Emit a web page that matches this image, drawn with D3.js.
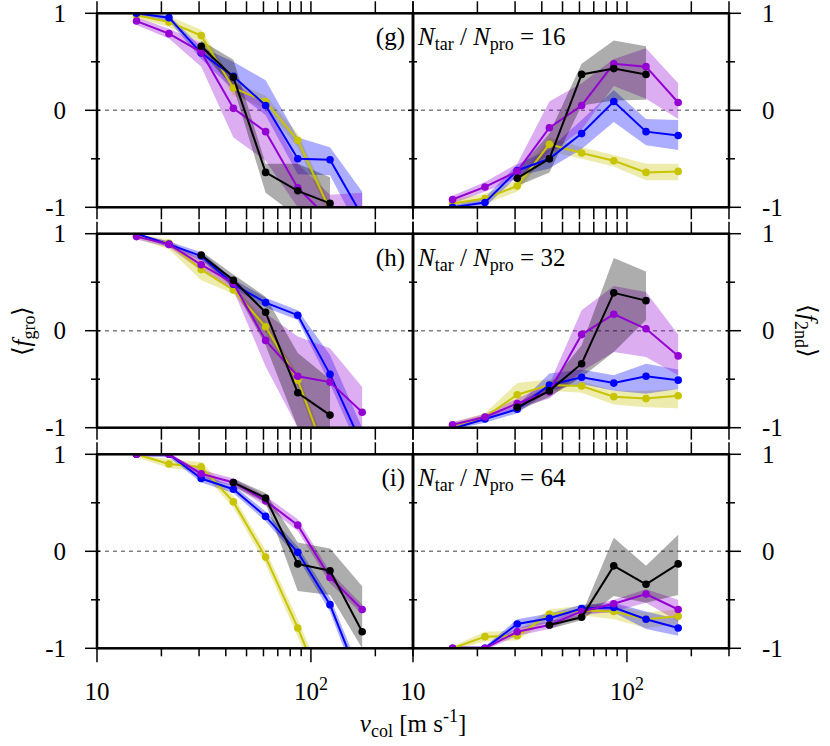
<!DOCTYPE html>
<html><head><meta charset="utf-8"><script src="https://d3js.org/d3.v7.min.js"></script></head>
<body style="margin:0">
<script>
// collision velocities (m/s), same for every panel
var vcol = [15.3, 21.7, 30.7, 43.4, 61.4, 86.8, 122.8, 173.6];

// series order: yellow, blue, purple, black
var seriesColors = ["#c8c400", "#0000ff", "#9400d3", "#000000"];
var ratios = [16, 32, 64];
var panelTags = ["(g)", "(h)", "(i)"];

// <f_gro>, N_tar/N_pro = 16
var groG_mean = [
  [0.98, 0.91, 0.77, 0.23, 0.09, -0.31, -1.03, null],
  [1.00, 0.955, 0.59, 0.35, 0.05, -0.50, -0.51, -1.09],
  [0.92, 0.79, 0.60, 0.02, -0.22, -0.80, -1.13, -1.20],
  [null, null, 0.66, 0.34, -0.64, -0.83, -0.96, null]];
var groG_lo = [
  [0.95, 0.86, 0.70, 0.15, 0.02, -0.38, -1.10, null],
  [0.98, 0.92, 0.53, 0.21, -0.05, -0.66, -0.67, -1.30],
  [0.88, 0.74, 0.45, -0.28, -0.52, -1.00, -1.30, -1.30],
  [null, null, 0.60, 0.24, -0.85, -1.10, -1.20, null]];
var groG_hi = [
  [1.00, 0.97, 0.83, 0.30, 0.15, -0.24, -0.96, null],
  [1.00, 0.98, 0.65, 0.50, 0.31, -0.28, -0.38, -0.84],
  [0.96, 0.84, 0.70, 0.30, 0.05, -0.55, -0.87, -0.85],
  [null, null, 0.72, 0.52, -0.55, -0.55, -0.69, null]];

// <f_2nd>, N_tar/N_pro = 16
var secG_mean = [
  [-0.96, -0.91, -0.78, -0.35, -0.44, -0.52, -0.64, -0.63],
  [-1.00, -0.95, -0.62, -0.50, -0.24, 0.09, -0.22, -0.26],
  [-0.92, -0.79, -0.63, -0.18, 0.05, 0.48, 0.45, 0.08],
  [null, null, -0.70, -0.50, 0.37, 0.43, 0.37, null]];
var secG_lo = [
  [-1.00, -0.96, -0.84, -0.42, -0.50, -0.58, -0.72, -0.72],
  [-1.02, -1.00, -0.68, -0.60, -0.40, -0.12, -0.36, -0.41],
  [-0.96, -0.84, -0.70, -0.45, -0.20, 0.25, 0.12, -0.09],
  [null, null, -0.78, -0.64, 0.05, 0.10, 0.11, null]];
var secG_hi = [
  [-0.92, -0.86, -0.72, -0.28, -0.38, -0.46, -0.55, -0.55],
  [-0.98, -0.90, -0.56, -0.40, -0.10, 0.21, -0.09, -0.10],
  [-0.88, -0.74, -0.55, 0.09, 0.28, 0.53, 0.64, 0.28],
  [null, null, -0.62, -0.24, 0.48, 0.72, 0.66, null]];

// <f_gro>, N_tar/N_pro = 32
var groH_mean = [
  [0.98, 0.90, 0.63, 0.42, 0.04, -0.51, -1.40, null],
  [1.00, 0.89, 0.77, 0.48, 0.29, 0.16, -0.45, -1.18],
  [0.97, 0.89, 0.68, 0.49, -0.10, -0.47, -0.53, -0.84],
  [null, null, 0.78, 0.52, 0.19, -0.64, -0.87, null]];
var groH_lo = [
  [0.95, 0.84, 0.52, 0.38, -0.02, -0.58, -1.50, null],
  [0.98, 0.86, 0.73, 0.44, 0.24, 0.11, -0.55, -1.30],
  [0.94, 0.86, 0.62, 0.42, -0.37, -1.00, -1.00, -1.00],
  [null, null, 0.74, 0.45, -0.15, -1.00, -1.00, null]];
var groH_hi = [
  [1.00, 0.94, 0.72, 0.47, 0.10, -0.44, -1.30, null],
  [1.00, 0.92, 0.81, 0.53, 0.34, 0.21, -0.25, -1.00],
  [1.00, 0.92, 0.74, 0.55, 0.18, -0.06, -0.18, -0.58],
  [null, null, 0.82, 0.58, 0.35, -0.23, -0.50, null]];

// <f_2nd>, N_tar/N_pro = 32
var secH_mean = [
  [-0.98, -0.89, -0.66, -0.56, -0.57, -0.68, -0.70, -0.67],
  [-1.01, -0.91, -0.81, -0.56, -0.48, -0.54, -0.47, -0.51],
  [-0.97, -0.89, -0.75, -0.63, -0.04, 0.17, 0.02, -0.26],
  [null, null, -0.79, -0.62, -0.34, 0.39, 0.31, null]];
var secH_lo = [
  [-1.00, -0.93, -0.74, -0.62, -0.64, -0.76, -0.79, -0.80],
  [-1.02, -0.95, -0.85, -0.62, -0.55, -0.62, -0.65, -0.60],
  [-1.00, -0.92, -0.80, -0.70, -0.42, -0.22, -0.27, -0.46],
  [null, null, -0.83, -0.68, -0.48, -0.22, 0.11, null]];
var secH_hi = [
  [-0.95, -0.85, -0.54, -0.50, -0.52, -0.62, -0.62, -0.60],
  [-0.98, -0.87, -0.77, -0.44, -0.40, -0.46, -0.34, -0.40],
  [-0.94, -0.86, -0.70, -0.55, 0.21, 0.46, 0.40, -0.04],
  [null, null, -0.75, -0.56, -0.15, 0.75, 0.61, null]];

// <f_gro>, N_tar/N_pro = 64
var groI_mean = [
  [1.00, 0.90, 0.87, 0.51, -0.06, -0.79, -1.60, null],
  [1.00, 1.00, 0.75, 0.64, 0.36, -0.01, -0.55, -1.39],
  [1.00, 1.00, 0.80, 0.71, 0.52, 0.27, -0.27, -0.60],
  [null, null, null, 0.71, 0.55, -0.13, -0.20, -0.83]];
var groI_lo = [
  [0.97, 0.86, 0.82, 0.45, -0.13, -0.88, -1.70, null],
  [0.98, 0.97, 0.71, 0.60, 0.31, -0.07, -0.62, -1.50],
  [0.98, 0.98, 0.76, 0.67, 0.47, 0.21, -0.33, -0.65],
  [null, null, null, 0.67, 0.50, -0.41, -0.45, -1.00]];
var groI_hi = [
  [1.00, 0.95, 0.92, 0.57, 0.01, -0.70, -1.50, null],
  [1.00, 1.00, 0.79, 0.68, 0.41, 0.05, -0.48, -1.28],
  [1.00, 1.00, 0.84, 0.75, 0.57, 0.33, -0.21, -0.55],
  [null, null, null, 0.75, 0.60, 0.09, 0.03, -0.36]];

// <f_2nd>, N_tar/N_pro = 64
var secI_mean = [
  [-1.00, -0.88, -0.87, -0.65, -0.61, -0.62, -0.70, -0.67],
  [-1.00, -1.00, -0.75, -0.69, -0.59, -0.58, -0.70, -0.79],
  [-1.00, -1.00, -0.83, -0.76, -0.62, -0.54, -0.44, -0.60],
  [null, null, null, -0.76, -0.68, -0.15, -0.34, -0.13]];
var secI_lo = [
  [-1.02, -0.93, -0.92, -0.70, -0.66, -0.70, -0.79, -0.75],
  [-1.02, -1.02, -0.80, -0.74, -0.63, -0.63, -0.80, -0.87],
  [-1.02, -1.02, -0.87, -0.80, -0.66, -0.62, -0.53, -0.72],
  [null, null, null, -0.80, -0.71, -0.46, -0.53, -0.45]];
var secI_hi = [
  [-0.98, -0.83, -0.82, -0.60, -0.56, -0.55, -0.63, -0.60],
  [-0.98, -0.98, -0.70, -0.64, -0.55, -0.53, -0.62, -0.70],
  [-0.98, -0.98, -0.79, -0.72, -0.58, -0.50, -0.39, -0.50],
  [null, null, null, -0.72, -0.65, 0.14, -0.15, 0.17]];

var xTicks = [10, 20, 30, 40, 50, 60, 70, 80, 90, 100, 200, 300];
var yTicks = [-1, -0.5, 0, 0.5, 1];
var yTickLabels = ["-1", "", "0", "", "1"];

var FS = 25, FSUB = 18;
var SERIF = "Liberation Serif, Tinos, Times New Roman, Nimbus Roman, serif";

// layout
var W = 830, H = 746;
var colX = [97, 413], panelW = 316;
var rowY = [13.3, 233.7, 454.3], panelH = 194;

var svg = d3.select("body").append("svg")
  .attr("width", W).attr("height", H)
  .attr("font-family", SERIF);

var defs = svg.append("defs");

var panels = [
  [[groG_mean, groG_lo, groG_hi], [secG_mean, secG_lo, secG_hi]],
  [[groH_mean, groH_lo, groH_hi], [secH_mean, secH_lo, secH_hi]],
  [[groI_mean, groI_lo, groI_hi], [secI_mean, secI_lo, secI_hi]]
];

function txt(sel) {
  return sel.append("text").attr("font-family", SERIF);
}

function drawPanel(r, c) {
  var x0 = colX[c], y0 = rowY[r];
  var x = d3.scaleLog().domain([10, 300]).range([x0, x0 + panelW]);
  var y = d3.scaleLinear().domain([-1, 1]).range([y0 + panelH, y0]);
  var mean = panels[r][c][0], lo = panels[r][c][1], hi = panels[r][c][2];

  var id = "clip" + r + c;
  defs.append("clipPath").attr("id", id).append("rect")
    .attr("x", x0).attr("y", y0).attr("width", panelW).attr("height", panelH);

  var g = svg.append("g").attr("clip-path", "url(#" + id + ")");

  // zero line
  g.append("line")
    .attr("x1", x0).attr("x2", x0 + panelW)
    .attr("y1", y(0)).attr("y2", y(0))
    .attr("stroke", "#808080").attr("stroke-width", 1.6)
    .attr("stroke-dasharray", "4,4");

  // bands first
  seriesColors.forEach(function(col, s) {
    var pts = vcol.map(function(v, i) { return {v: v, lo: lo[s][i], hi: hi[s][i]}; })
      .filter(function(d) { return d.lo != null; });
    var area = d3.area()
      .x(function(d) { return x(d.v); })
      .y0(function(d) { return y(d.lo); })
      .y1(function(d) { return y(d.hi); });
    g.append("path").datum(pts)
      .attr("d", area)
      .attr("fill", col)
      .attr("fill-opacity", 0.32);
  });

  // lines and dots
  seriesColors.forEach(function(col, s) {
    var pts = vcol.map(function(v, i) { return {v: v, m: mean[s][i]}; })
      .filter(function(d) { return d.m != null; });
    var line = d3.line()
      .x(function(d) { return x(d.v); })
      .y(function(d) { return y(d.m); });
    g.append("path").datum(pts)
      .attr("d", line)
      .attr("fill", "none")
      .attr("stroke", col)
      .attr("stroke-width", 2);
    g.selectAll(null).data(pts).enter().append("circle")
      .attr("cx", function(d) { return x(d.v); })
      .attr("cy", function(d) { return y(d.m); })
      .attr("r", 3.8)
      .attr("fill", col);
  });

  // frame
  svg.append("rect")
    .attr("x", x0).attr("y", y0).attr("width", panelW).attr("height", panelH)
    .attr("fill", "none").attr("stroke", "#000").attr("stroke-width", 2.5);

  var ax = svg.append("g").attr("stroke", "#000").attr("stroke-width", 1.5);

  // x ticks, outward top and bottom
  xTicks.forEach(function(t) {
    var major = (t === 10 || t === 100);
    var lenTop = 12;
    var lenBot = (r === 2) ? (major ? 14 : 8) : 12;
    ax.append("line").attr("x1", x(t)).attr("x2", x(t))
      .attr("y1", y0).attr("y2", y0 - lenTop);
    ax.append("line").attr("x1", x(t)).attr("x2", x(t))
      .attr("y1", y0 + panelH).attr("y2", y0 + panelH + lenBot);
  });

  // y ticks
  yTicks.forEach(function(t, i) {
    var major = yTickLabels[i] !== "";
    var len = major ? 12 : 6;
    if (c === 0) {
      ax.append("line").attr("x1", x0 - len).attr("x2", x0 + 3)
        .attr("y1", y(t)).attr("y2", y(t));
      ax.append("line").attr("x1", x0 + panelW - (major ? 5 : 4)).attr("x2", x0 + panelW + (major ? 5 : 4))
        .attr("y1", y(t)).attr("y2", y(t));
    } else {
      ax.append("line").attr("x1", x0 + panelW - 3).attr("x2", x0 + panelW + len)
        .attr("y1", y(t)).attr("y2", y(t));
    }
    if (major) {
      if (c === 0) {
        txt(svg).attr("x", 66).attr("y", y(t) + 8.5)
          .attr("text-anchor", "end").attr("font-size", FS).text(yTickLabels[i]);
      } else {
        txt(svg).attr("x", 762).attr("y", y(t) + 8.5)
          .attr("text-anchor", "start").attr("font-size", FS).text(yTickLabels[i]);
      }
    }
  });

  // panel annotation
  if (c === 0) {
    txt(svg).attr("x", 405).attr("y", y0 + 32)
      .attr("text-anchor", "end").attr("font-size", FS).text(panelTags[r]);
  } else {
    var tt = txt(svg).attr("x", 418).attr("y", y0 + 32).attr("font-size", FS);
    tt.append("tspan").attr("font-style", "italic").text("N");
    tt.append("tspan").attr("font-size", FSUB).attr("dy", 5).text("tar");
    tt.append("tspan").attr("dy", -5).text(" / ");
    tt.append("tspan").attr("font-style", "italic").text("N");
    tt.append("tspan").attr("font-size", FSUB).attr("dy", 5).text("pro");
    tt.append("tspan").attr("dy", -5).text(" = " + ratios[r]);
  }

  // x tick labels on the bottom row
  if (r === 2) {
    [10, 100].forEach(function(t) {
      var lab = txt(svg).attr("x", x(t)).attr("y", 700)
        .attr("text-anchor", "middle").attr("font-size", FS);
      if (t === 10) lab.text("10");
      else {
        lab.append("tspan").text("10");
        lab.append("tspan").attr("font-size", FSUB).attr("dy", -10).text("2");
      }
    });
  }
}

for (var r = 0; r < 3; r++) {
  for (var c = 0; c < 2; c++) drawPanel(r, c);
}

// axis titles
var xl = txt(svg).attr("x", 413).attr("y", 732)
  .attr("text-anchor", "middle").attr("font-size", FS);
xl.append("tspan").attr("font-style", "italic").text("v");
xl.append("tspan").attr("font-size", FSUB).attr("dy", 5).text("col");
xl.append("tspan").attr("dy", -5).text(" [m s");
xl.append("tspan").attr("font-size", FSUB).attr("dy", -10).text("-1");
xl.append("tspan").attr("dy", 10).text("]");

var yl = txt(svg).attr("transform", "translate(30,331) rotate(-90)")
  .attr("text-anchor", "middle").attr("font-size", FS);
yl.append("tspan").text("\u27E8");
yl.append("tspan").attr("font-style", "italic").text("f");
yl.append("tspan").attr("font-size", FSUB).attr("dy", 5).text("gro");
yl.append("tspan").attr("dy", -5).text("\u27E9");

var yr = txt(svg).attr("transform", "translate(800,331) rotate(90)")
  .attr("text-anchor", "middle").attr("font-size", FS);
yr.append("tspan").text("\u27E8");
yr.append("tspan").attr("font-style", "italic").text("f");
yr.append("tspan").attr("font-size", FSUB).attr("dy", 5).text("2nd");
yr.append("tspan").attr("dy", -5).text("\u27E9");
</script>
</body>
</html>
